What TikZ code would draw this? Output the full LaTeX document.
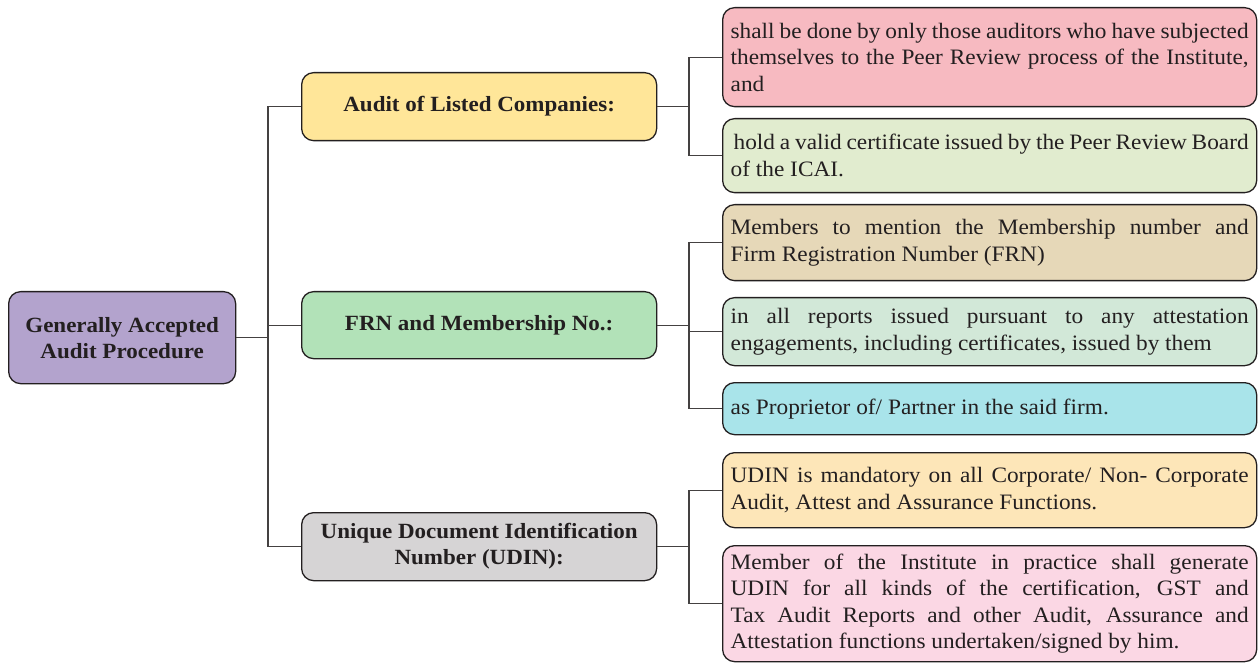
\documentclass[tikz,border=0pt]{standalone}
\usepackage{fontspec}
\setmainfont[FakeStretch=1.06]{Liberation Serif}
\usetikzlibrary{calc}
\definecolor{ink}{HTML}{231F20}
\definecolor{cRoot}{HTML}{B3A3CD}
\definecolor{cAudit}{HTML}{FFE699}
\definecolor{cFrn}{HTML}{B2E2B8}
\definecolor{cUdin}{HTML}{D6D4D5}
\definecolor{cPinkA}{HTML}{F7BAC1}
\definecolor{cGreenA}{HTML}{E1ECCF}
\definecolor{cTan}{HTML}{E6D8B8}
\definecolor{cMint}{HTML}{D2E8D8}
\definecolor{cCyan}{HTML}{A9E4EA}
\definecolor{cYelB}{HTML}{FDE6B8}
\definecolor{cPinkB}{HTML}{FBD7E4}
\tikzset{
  box/.style={draw=ink, line width=1.3pt, rounded corners=12pt, anchor=north west, text=ink, inner sep=0pt},
  headbox/.style={box, minimum width=355pt, align=center, font=\fontsize{21.7}{26}\selectfont\bfseries},
  leafbox/.style={box, minimum width=534pt, text width=518pt, align=justify, font=\fontsize{22}{26.5}\selectfont},
  conn/.style={draw=ink!85, line width=1.2pt}
}
\begin{document}
\begin{tikzpicture}[x=1pt,y=-1pt]
\useasboundingbox (0,0) rectangle (1259,663);
% root
\node[box, fill=cRoot, minimum width=227pt, minimum height=92pt, align=center,
      font=\fontsize{21.7}{26}\selectfont\bfseries] (root) at (8,291) {Generally Accepted\\Audit Procedure};
% headings
\node[headbox, fill=cAudit, minimum height=68pt] (audit) at (301,72) {Audit of Listed Companies:};
\node[headbox, fill=cFrn, minimum height=67pt] (frn) at (301,291) {FRN and Membership No.:};
\node[headbox, fill=cUdin, minimum height=68pt] (udin) at (301,512) {Unique Document Identification\\Number (UDIN):};
% leaves
\node[leafbox, fill=cPinkA, minimum height=99pt] (pa) at (722,7) {shall be done by only those auditors who have subjected\linebreak themselves to the Peer Review process of the Institute,\linebreak and};
\node[leafbox, fill=cGreenA, minimum height=74pt] (ga) at (722,118) {\hspace{3pt}hold a valid certificate issued by the Peer Review Board\linebreak of the ICAI.};
\node[leafbox, fill=cTan, minimum height=76pt] (tan) at (722,204) {Members to mention the Membership number and\linebreak Firm Registration Number (FRN)};
\node[leafbox, fill=cMint, minimum height=68pt] (mint) at (722,297) {in all reports issued pursuant to any attestation\linebreak engagements, including certificates, issued by them};
\node[leafbox, fill=cCyan, minimum height=52pt] (cyan) at (722,382) {as Proprietor of/ Partner in the said firm.};
\node[leafbox, fill=cYelB, minimum height=75pt] (yb) at (722,452) {UDIN is mandatory on all Corporate/ Non- Corporate\linebreak Audit, Attest and Assurance Functions.};
\node[leafbox, fill=cPinkB, minimum height=116pt] (pb) at (722,545) {Member of the Institute in practice shall generate\linebreak UDIN for all kinds of the certification, GST and\linebreak Tax Audit Reports and other Audit, Assurance and\linebreak Attestation functions undertaken/signed by him.};
% spine
\coordinate (spx) at (268,0);
\draw[conn] (root.east) -- (root.east -| spx);
\draw[conn] (audit.west) -- (audit.west -| spx) |- (udin.west);
\draw[conn] (frn.west) -- (frn.west -| spx);
% brackets
\coordinate (bx) at (689,0);
\draw[conn] (audit.east) -- (audit.east -| bx);
\draw[conn] (pa.west) -- (pa.west -| bx) |- (ga.west);
\draw[conn] (frn.east) -- (frn.east -| bx);
\draw[conn] (tan.west) -- (tan.west -| bx) |- (cyan.west);
\draw[conn] (mint.west) -- (mint.west -| bx);
\draw[conn] (udin.east) -- (udin.east -| bx);
\draw[conn] (yb.west) -- (yb.west -| bx) |- (pb.west);
\end{tikzpicture}
\end{document}
